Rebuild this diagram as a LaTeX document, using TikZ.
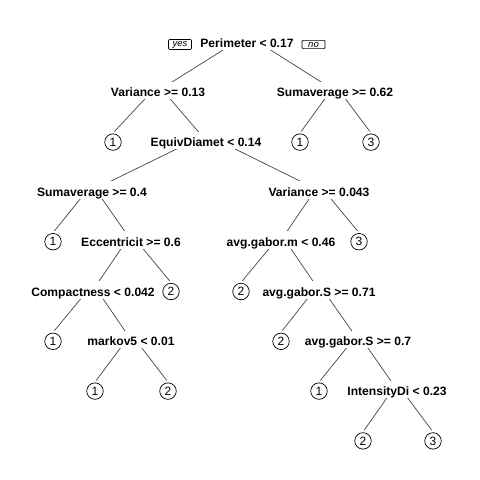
\documentclass[tikz,border=0pt]{standalone}
\usepackage{fontspec}
\setmainfont{Liberation Sans}
\usetikzlibrary{backgrounds}
\definecolor{BranchGray}{HTML}{444444}

\begin{document}
\begin{tikzpicture}[x=1pt, y=-1pt,
    split/.style={fill=white, anchor=base, yshift=-4.5pt, inner xsep=1pt, inner ysep=0pt, text height=15pt, text depth=2.5pt, font=\fontsize{12.1}{14}\selectfont\bfseries},
    leaf/.style={circle, draw, fill=white, minimum size=16.5pt, inner sep=0pt, line width=0.7pt, font=\fontsize{12}{14}\selectfont, preaction={draw=white, line width=5pt}},
    tag/.style={draw, rounded corners=1pt, inner xsep=3pt, inner ysep=1.5pt, minimum width=23pt, line width=0.6pt, font=\fontsize{9.5}{10}\selectfont\itshape},
    branch/.style={draw=BranchGray, line width=0.7pt}]
    \useasboundingbox (0,0) rectangle (480,480);

    \node[split] (root) at (247,42.5) {Perimeter < 0.17};
    \node[tag] (yes) at (180,44.5) {yes};
    \node[tag] (no) at (313.5,44.5) {no};

    \node[split] (var13) at (158,92.3) {Variance >= 0.13};
    \node[split] (suma62) at (335,92.3) {Sumaverage >= 0.62};

    \node[leaf] (leaf1a) at (113,142.1) {1};
    \node[split] (equiv) at (206,142.1) {EquivDiamet < 0.14};
    \node[leaf] (leaf1b) at (300,142.1) {1};
    \node[leaf] (leaf3a) at (371,142.1) {3};

    \node[split] (suma4) at (92,191.9) {Sumaverage >= 0.4};
    \node[split] (var043) at (319,191.9) {Variance >= 0.043};

    \node[leaf] (leaf1c) at (53,241.7) {1};
    \node[split] (ecc) at (131,241.7) {Eccentricit >= 0.6};
    \node[split] (gaborm) at (281,241.7) {avg.gabor.m < 0.46};
    \node[leaf] (leaf3b) at (359,241.7) {3};

    \node[split] (compact) at (93,291.5) {Compactness < 0.042};
    \node[leaf] (leaf2a) at (171,291.5) {2};
    \node[leaf] (leaf2b) at (241,291.5) {2};
    \node[split] (gabors71) at (319,291.5) {avg.gabor.S >= 0.71};

    \node[leaf] (leaf1d) at (53,341.3) {1};
    \node[split] (markov) at (131,341.3) {markov5 < 0.01};
    \node[leaf] (leaf2c) at (281,341.3) {2};
    \node[split] (gabors7) at (358,341.3) {avg.gabor.S >= 0.7};

    \node[leaf] (leaf1e) at (95,391.1) {1};
    \node[leaf] (leaf2d) at (168,391.1) {2};
    \node[leaf] (leaf1f) at (319,391.1) {1};
    \node[split] (intens) at (397,391.1) {IntensityDi < 0.23};

    \node[leaf] (leaf2e) at (363,440.9) {2};
    \node[leaf] (leaf3c) at (433,440.9) {3};

    \begin{scope}[on background layer]
    \draw[branch] ([yshift=12pt]root.base) -- ([yshift=6pt]var13.base);
    \draw[branch] ([yshift=12pt]root.base) -- ([yshift=6pt]suma62.base);
    \draw[branch] ([yshift=12pt]var13.base) -- ([yshift=9pt]leaf1a.center);
    \draw[branch] ([yshift=12pt]var13.base) -- ([yshift=6pt]equiv.base);
    \draw[branch] ([yshift=12pt]suma62.base) -- ([yshift=9pt]leaf1b.center);
    \draw[branch] ([yshift=12pt]suma62.base) -- ([yshift=9pt]leaf3a.center);
    \draw[branch] ([yshift=12pt]equiv.base) -- ([yshift=6pt]suma4.base);
    \draw[branch] ([yshift=12pt]equiv.base) -- ([yshift=6pt]var043.base);
    \draw[branch] ([yshift=12pt]suma4.base) -- ([yshift=9pt]leaf1c.center);
    \draw[branch] ([yshift=12pt]suma4.base) -- ([yshift=6pt]ecc.base);
    \draw[branch] ([yshift=12pt]var043.base) -- ([yshift=6pt]gaborm.base);
    \draw[branch] ([yshift=12pt]var043.base) -- ([yshift=9pt]leaf3b.center);
    \draw[branch] ([yshift=12pt]ecc.base) -- ([yshift=6pt]compact.base);
    \draw[branch] ([yshift=12pt]ecc.base) -- ([yshift=9pt]leaf2a.center);
    \draw[branch] ([yshift=12pt]gaborm.base) -- ([yshift=9pt]leaf2b.center);
    \draw[branch] ([yshift=12pt]gaborm.base) -- ([yshift=6pt]gabors71.base);
    \draw[branch] ([yshift=12pt]compact.base) -- ([yshift=9pt]leaf1d.center);
    \draw[branch] ([yshift=12pt]compact.base) -- ([yshift=6pt]markov.base);
    \draw[branch] ([yshift=12pt]gabors71.base) -- ([yshift=9pt]leaf2c.center);
    \draw[branch] ([yshift=12pt]gabors71.base) -- ([yshift=6pt]gabors7.base);
    \draw[branch] ([yshift=12pt]markov.base) -- ([yshift=9pt]leaf1e.center);
    \draw[branch] ([yshift=12pt]markov.base) -- ([yshift=9pt]leaf2d.center);
    \draw[branch] ([yshift=12pt]gabors7.base) -- ([yshift=9pt]leaf1f.center);
    \draw[branch] ([yshift=12pt]gabors7.base) -- ([yshift=6pt]intens.base);
    \draw[branch] ([yshift=12pt]intens.base) -- ([yshift=9pt]leaf2e.center);
    \draw[branch] ([yshift=12pt]intens.base) -- ([yshift=9pt]leaf3c.center);
    \end{scope}
\end{tikzpicture}
\end{document}
